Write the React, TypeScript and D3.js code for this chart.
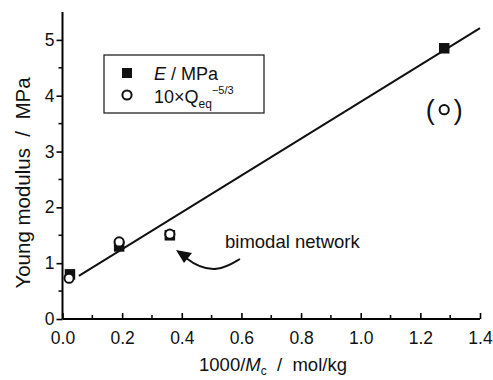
import React, { useEffect, useRef } from 'react';
import * as d3 from 'd3';

// 1000/Mc (mol/kg) vs Young modulus (MPa)
const xE = [0.025, 0.19, 0.36, 1.28];
const yE = [0.8, 1.3, 1.5, 4.85];
const xQ = [0.022, 0.19, 0.36, 1.28];
const yQ = [0.73, 1.38, 1.52, 3.75];
const fitX = [0.055, 1.4];
const fitSlope = 3.3;
const fitIntercept = 0.59;
const xMajor = [0, 0.2, 0.4, 0.6, 0.8, 1.0, 1.2, 1.4];
const yMajor = [0, 1, 2, 3, 4, 5];

const W = 493;
const H = 380;
const FONT = 'Liberation Sans, Arial, sans-serif';

function App() {
  const ref = useRef<SVGSVGElement>(null);

  useEffect(() => {
    const svg = d3.select(ref.current);
    svg.selectAll('*').remove();

    const x = d3.scaleLinear().domain([0, 1.4]).range([62.5, 480]);
    const y = d3.scaleLinear().domain([0, 5.5]).range([319, 12]);

    const g = svg.append('g').attr('font-family', FONT).attr('fill', '#111');

    // x axis, ticks inward
    const xAxis = d3.axisBottom(x).tickValues(xMajor).tickSize(-6).tickFormat(d3.format('.1f'));
    const gx = g.append('g').attr('transform', `translate(0,${y(0)})`).call(xAxis);
    gx.call(a => a.append('g').selectAll('line')
      .data(d3.range(0.1, 1.4, 0.2))
      .enter().append('line')
      .attr('x1', d => x(d)).attr('x2', d => x(d))
      .attr('y1', 0).attr('y2', -4)
      .attr('stroke', '#111').attr('stroke-width', 1.6));
    gx.select('.domain').attr('stroke-width', 2).attr('d', `M${x(0)},0H${x(1.4)}`);
    gx.selectAll('.tick line').attr('stroke-width', 1.6);
    gx.selectAll('.tick text')
      .attr('y', 13).attr('dy', '0.71em')
      .attr('font-size', 17.5).attr('font-family', FONT).attr('fill', '#111');

    // y axis, ticks outward
    const yAxis = d3.axisLeft(y).tickValues(yMajor).tickSize(6).tickFormat(d3.format('d'));
    const gy = g.append('g').attr('transform', `translate(${x(0)},0)`).call(yAxis);
    gy.call(a => a.append('g').selectAll('line')
      .data(d3.range(0.5, 5.5, 1))
      .enter().append('line')
      .attr('y1', d => y(d)).attr('y2', d => y(d))
      .attr('x1', 0).attr('x2', -4)
      .attr('stroke', '#111').attr('stroke-width', 1.6));
    gy.select('.domain').attr('stroke-width', 2).attr('d', `M0,${y(0)}V${y(5.5)}`);
    gy.selectAll('.tick line').attr('stroke-width', 1.6);
    gy.selectAll('.tick text')
      .attr('x', -8)
      .attr('font-size', 17.5).attr('font-family', FONT).attr('fill', '#111');

    // axis titles
    g.append('text')
      .attr('transform', `translate(30,183) rotate(-90)`)
      .attr('text-anchor', 'middle').attr('font-size', 20.5)
      .attr('xml:space', 'preserve')
      .text('Young modulus  /  MPa');

    const xt = g.append('text')
      .attr('x', 273).attr('y', 371)
      .attr('text-anchor', 'middle').attr('font-size', 18.5)
      .attr('xml:space', 'preserve');
    xt.append('tspan').text('1000/');
    xt.append('tspan').attr('font-style', 'italic').text('M');
    xt.append('tspan').attr('font-size', 12).attr('dy', 4).text('c');
    xt.append('tspan').attr('dy', -4).text('  /  mol/kg');

    // fit line
    const fit = d3.line<number>()
      .x(d => x(d))
      .y(d => y(fitIntercept + fitSlope * d));
    g.append('path').attr('d', fit(fitX))
      .attr('fill', 'none').attr('stroke', '#111').attr('stroke-width', 2);

    // E squares
    const s = 10.5;
    g.append('g').selectAll('rect').data(xE).enter().append('rect')
      .attr('x', (d, i) => x(d) - s / 2).attr('y', (d, i) => y(yE[i]) - s / 2)
      .attr('width', s).attr('height', s).attr('fill', '#111');

    // Q circles
    g.append('g').selectAll('circle').data(xQ).enter().append('circle')
      .attr('cx', d => x(d)).attr('cy', (d, i) => y(yQ[i]))
      .attr('r', 4.6).attr('fill', '#fff').attr('stroke', '#111').attr('stroke-width', 2);

    // parentheses around the last circle
    const lastX = x(xQ[3]);
    const lastY = y(yQ[3]);
    g.append('text').attr('x', lastX - 14).attr('y', lastY + 9)
      .attr('text-anchor', 'middle').attr('font-size', 27).text('(');
    g.append('text').attr('x', lastX + 14).attr('y', lastY + 9)
      .attr('text-anchor', 'middle').attr('font-size', 27).text(')');

    // annotation
    g.append('text').attr('x', 225).attr('y', 248).attr('font-size', 18.5).text('bimodal network');
    g.append('path')
      .attr('d', 'M240,259 C228,266 212,278 186,258')
      .attr('fill', 'none').attr('stroke', '#111').attr('stroke-width', 2);
    g.append('path')
      .attr('d', 'M176,250 L192,253 L184,263 Z')
      .attr('fill', '#111');

    // legend
    g.append('rect').attr('x', 104).attr('y', 55).attr('width', 160).attr('height', 58)
      .attr('fill', 'none').attr('stroke', '#111').attr('stroke-width', 1.2);
    g.append('rect').attr('x', 122).attr('y', 68).attr('width', 10).attr('height', 10).attr('fill', '#111');
    g.append('circle').attr('cx', 127).attr('cy', 95).attr('r', 4.6)
      .attr('fill', '#fff').attr('stroke', '#111').attr('stroke-width', 2);
    const l1 = g.append('text').attr('x', 154).attr('y', 80).attr('font-size', 18);
    l1.append('tspan').attr('font-style', 'italic').text('E');
    l1.append('tspan').text(' / MPa');
    const l2 = g.append('text').attr('x', 154).attr('y', 103).attr('font-size', 18);
    l2.append('tspan').text('10\u00D7Q');
    l2.append('tspan').attr('font-size', 12).attr('dy', 5).text('eq');
    l2.append('tspan').attr('font-size', 11).attr('dy', -14).text('\u22125/3');
  }, []);

  return <svg ref={ref} width={W} height={H} style={{ position: 'absolute', left: 0, top: 0, background: '#fff' }} />;
}

export default App;
